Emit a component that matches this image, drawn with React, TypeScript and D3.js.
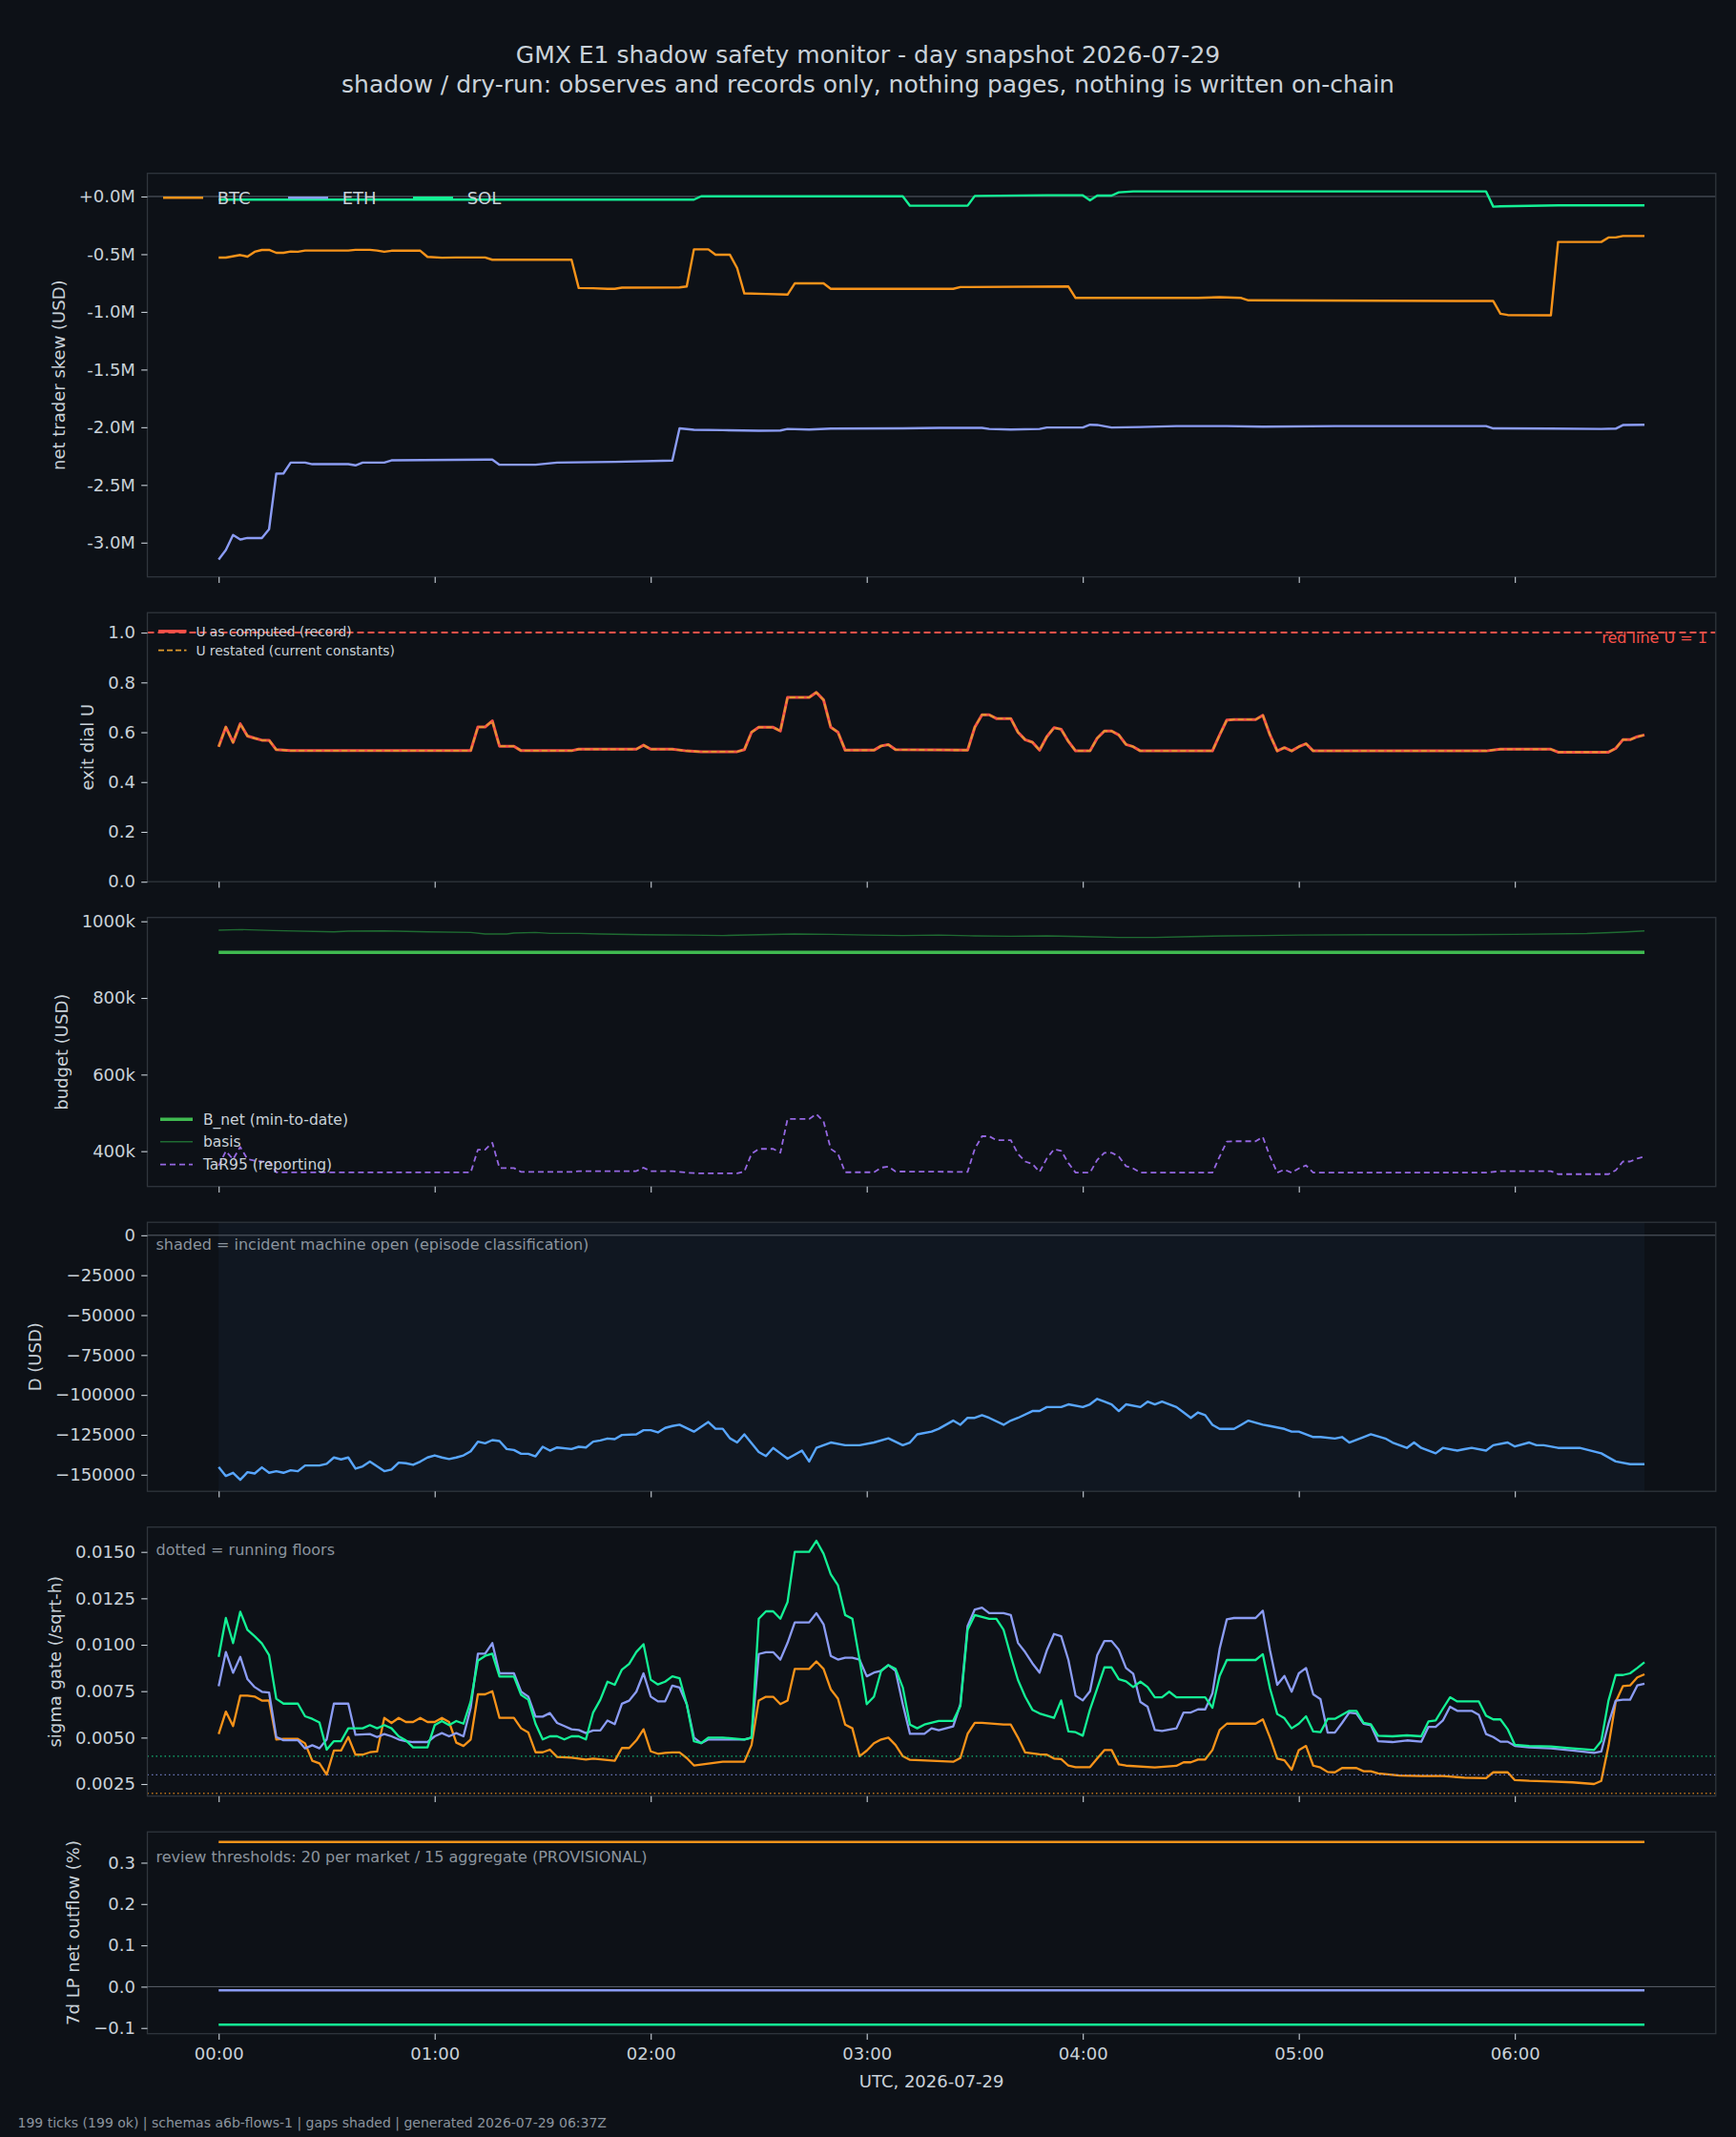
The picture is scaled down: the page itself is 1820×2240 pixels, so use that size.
import { useEffect, useRef } from "react";
import * as d3 from "d3";

// every series is [minutes after 00:00 UTC, value]; one tick every 2 min, 00:00 -> 06:36
type Pt = [number, number];

const markets = ["BTC", "ETH", "SOL"];

// net trader skew, USD millions
const btcSkew: Pt[] = [
  [0, -0.529], [2, -0.529], [6, -0.507], [8, -0.521], [10, -0.479], [12, -0.463], [14, -0.463],
  [16, -0.488], [18, -0.488], [20, -0.477], [22, -0.479], [24, -0.468], [36, -0.468], [38, -0.462],
  [42, -0.462], [44, -0.468], [46, -0.479], [48, -0.47], [56, -0.47], [58, -0.523], [62, -0.53],
  [66, -0.528], [74, -0.528], [76, -0.548], [98, -0.548], [100, -0.793], [104, -0.795], [108, -0.8],
  [110, -0.8], [112, -0.79], [128, -0.788], [130, -0.78], [132, -0.458], [136, -0.458], [138, -0.505],
  [142, -0.505], [144, -0.62], [146, -0.84], [152, -0.845], [158, -0.85], [160, -0.753], [168, -0.753],
  [170, -0.8], [204, -0.8], [206, -0.785], [236, -0.78], [238, -0.879], [272, -0.879], [278, -0.872],
  [284, -0.879], [286, -0.9], [354, -0.906], [356, -1.016], [358, -1.027], [370, -1.03], [372, -0.394],
  [384, -0.394], [386, -0.355], [388, -0.355], [390, -0.342], [396, -0.342],
];
const ethSkew: Pt[] = [
  [0, -3.146], [2, -3.064], [4, -2.934], [6, -2.973], [8, -2.96], [12, -2.96], [14, -2.884],
  [16, -2.402], [18, -2.4], [20, -2.306], [24, -2.306], [26, -2.32], [36, -2.32], [38, -2.33],
  [40, -2.306], [46, -2.306], [48, -2.287], [76, -2.28], [78, -2.325], [88, -2.325], [94, -2.306],
  [110, -2.3], [126, -2.288], [128, -2.01], [132, -2.022], [140, -2.025], [150, -2.03], [156, -2.028],
  [158, -2.015], [164, -2.02], [170, -2.012], [190, -2.01], [200, -2.005], [212, -2.005], [214, -2.015],
  [220, -2.02], [228, -2.015], [230, -2.002], [240, -2.002], [242, -1.978], [244, -1.98], [248, -2.002],
  [256, -1.998], [266, -1.99], [280, -1.99], [290, -1.995], [310, -1.99], [352, -1.99], [354, -2.01],
  [370, -2.012], [384, -2.015], [388, -2.012], [390, -1.981], [396, -1.978],
];
const solSkew: Pt[] = [
  [0, -0.027], [132, -0.027], [134, 0.002], [190, 0.002], [192, -0.08], [208, -0.08], [210, 0.005],
  [230, 0.011], [240, 0.011], [242, -0.033], [244, 0.008], [248, 0.008], [250, 0.036], [254, 0.044],
  [352, 0.044], [354, -0.088], [356, -0.085], [372, -0.077], [396, -0.077],
];

// exit dial U
const uRecord: Pt[] = [
  [0, 0.542], [2, 0.621], [4, 0.559], [6, 0.634], [8, 0.585], [10, 0.576], [12, 0.568], [14, 0.568],
  [16, 0.53], [20, 0.526], [70, 0.526], [72, 0.621], [74, 0.621], [76, 0.646], [78, 0.544], [82, 0.544],
  [84, 0.526], [98, 0.526], [100, 0.532], [116, 0.532], [118, 0.548], [120, 0.532], [126, 0.532],
  [130, 0.525], [134, 0.522], [144, 0.522], [146, 0.53], [148, 0.6], [150, 0.62], [154, 0.62],
  [156, 0.605], [158, 0.74], [164, 0.74], [166, 0.76], [168, 0.73], [170, 0.62], [172, 0.6],
  [174, 0.528], [182, 0.528], [184, 0.545], [186, 0.55], [188, 0.53], [208, 0.528], [210, 0.62],
  [212, 0.67], [214, 0.67], [216, 0.655], [220, 0.655], [222, 0.6], [224, 0.57], [226, 0.56],
  [228, 0.528], [230, 0.582], [232, 0.618], [234, 0.612], [236, 0.563], [238, 0.525], [242, 0.525],
  [244, 0.576], [246, 0.605], [248, 0.605], [250, 0.589], [252, 0.551], [254, 0.542], [256, 0.525],
  [276, 0.525], [278, 0.589], [280, 0.649], [282, 0.651], [288, 0.651], [290, 0.668], [292, 0.589],
  [294, 0.525], [296, 0.538], [298, 0.525], [300, 0.542], [302, 0.554], [304, 0.525], [352, 0.525],
  [356, 0.532], [370, 0.532], [372, 0.52], [386, 0.52], [388, 0.535], [390, 0.57], [392, 0.57],
  [394, 0.582], [396, 0.589],
];
// restated U lands exactly on the record for this day
const uRestated: Pt[] = uRecord.map((d) => [d[0], d[1]]);
const redLineU = 1;

// budget, USD thousands
const bNet: Pt[] = [[0, 919], [396, 919]];
const basis: Pt[] = [
  [0, 976.8], [6, 978.5], [15, 976], [32, 972.7], [36, 974.3], [46, 975.2], [58, 972.7], [70, 971],
  [74, 966.8], [80, 966.8], [82, 969.4], [88, 971], [92, 968.5], [100, 968.5], [106, 966.8],
  [118, 965.2], [124, 964.3], [130, 964], [140, 963], [150, 965], [160, 967], [170, 966], [180, 964],
  [190, 963], [200, 964], [210, 962], [220, 961], [230, 962], [240, 960], [250, 958], [260, 958],
  [270, 960], [280, 962], [290, 963], [300, 964], [320, 965], [340, 965], [360, 966], [380, 968],
  [390, 972], [396, 975],
];
const tar95: Pt[] = [
  [0, 362], [2, 400], [4, 379], [6, 411], [8, 379], [10, 375], [12, 373], [14, 372], [16, 345],
  [20, 344.5], [70, 344.5], [72, 404], [74, 404], [76, 422], [78, 356], [82, 356], [84, 346], [98, 346],
  [100, 348], [116, 348], [118, 357], [120, 348], [126, 348], [130, 344], [134, 342], [144, 342],
  [146, 347], [148, 393], [150, 406], [154, 406], [156, 396], [158, 484], [164, 484], [166, 497],
  [168, 478], [170, 406], [172, 393], [174, 345], [182, 345], [184, 357], [186, 360], [188, 347],
  [208, 346], [210, 406], [212, 439], [214, 439], [216, 429], [220, 429], [222, 393], [224, 373],
  [226, 367], [228, 346], [230, 381], [232, 405], [234, 401], [236, 369], [238, 344], [242, 344],
  [244, 377], [246, 396], [248, 396], [250, 386], [252, 361], [254, 355], [256, 344], [276, 344],
  [278, 386], [280, 425], [282, 426], [288, 426], [290, 437], [292, 386], [294, 344], [296, 352],
  [298, 344], [300, 355], [302, 363], [304, 344], [352, 344], [356, 348], [370, 348], [372, 340],
  [386, 340], [388, 350], [390, 373], [392, 373], [394, 381], [396, 386],
];

// D, USD
const dUsd: Pt[] = [
  [0, -145200], [2, -150800], [4, -148800], [6, -153200], [8, -148400], [10, -149200], [12, -145400],
  [14, -148800], [16, -147800], [18, -148800], [20, -147200], [22, -147800], [24, -144200],
  [28, -144200], [30, -143200], [32, -139200], [34, -140400], [36, -139200], [38, -146200],
  [40, -144800], [42, -141800], [44, -144800], [46, -147800], [48, -146800], [50, -142400],
  [52, -142800], [54, -143800], [56, -141800], [58, -139200], [60, -137900], [62, -139200],
  [64, -140200], [66, -139200], [68, -137900], [70, -135300], [72, -129300], [74, -130300],
  [76, -128300], [78, -128900], [80, -133900], [82, -134500], [84, -136900], [86, -136900],
  [88, -138500], [90, -132500], [92, -134900], [94, -132900], [98, -133900], [100, -132500],
  [102, -132900], [104, -129300], [106, -128500], [108, -127300], [110, -127700], [112, -125100],
  [116, -124700], [118, -122100], [120, -122100], [122, -123500], [124, -120700], [126, -119500],
  [128, -118700], [132, -123000], [136, -117000], [138, -121200], [140, -121200], [142, -127200],
  [144, -129800], [146, -124700], [150, -135800], [152, -138300], [154, -133200], [156, -136600],
  [158, -140000], [162, -134900], [164, -141700], [166, -133200], [168, -131500], [170, -129800],
  [174, -131500], [178, -131500], [182, -129800], [186, -127200], [190, -131500], [192, -129800],
  [194, -124700], [198, -123000], [200, -121200], [204, -116100], [206, -118700], [208, -114400],
  [210, -114400], [212, -112700], [214, -114400], [218, -118700], [220, -116100], [222, -114400],
  [226, -110100], [228, -110100], [230, -107600], [234, -107600], [236, -105900], [240, -107600],
  [242, -105900], [244, -102500], [246, -104200], [248, -105900], [250, -110100], [252, -105900],
  [256, -107600], [258, -104200], [260, -105900], [262, -104200], [266, -107600], [268, -111000],
  [270, -114400], [272, -111000], [274, -112700], [276, -118700], [278, -121300], [282, -121300],
  [284, -118700], [286, -116100], [290, -118700], [292, -119500], [296, -121300], [298, -123000],
  [300, -123000], [304, -126400], [306, -126400], [310, -127300], [312, -126400], [314, -129800],
  [318, -126400], [320, -124700], [324, -127300], [326, -129800], [330, -133200], [332, -129800],
  [334, -133200], [338, -136600], [340, -133200], [344, -134900], [346, -134000], [348, -133200],
  [352, -134900], [354, -131500], [358, -129800], [360, -132300], [364, -129800], [366, -131500],
  [368, -131500], [372, -133200], [378, -133200], [384, -136600], [388, -141700], [392, -143400],
  [396, -143400],
];
// incident machine open, first to last tick
const incidentSpan = [0, 396];

// sigma gate, /sqrt-h
const sigBtc: Pt[] = [
  [0, 0.00519], [2, 0.0064], [4, 0.00562], [6, 0.00726], [8, 0.00726], [10, 0.00721], [12, 0.00699],
  [14, 0.007], [16, 0.0049], [18, 0.00493], [22, 0.00493], [24, 0.00469], [26, 0.00375], [28, 0.00361],
  [30, 0.00301], [32, 0.0043], [34, 0.0043], [36, 0.00503], [38, 0.00408], [40, 0.00408], [42, 0.00421],
  [44, 0.00425], [46, 0.00606], [48, 0.00579], [50, 0.00606], [52, 0.00584], [54, 0.00584], [56, 0.00606],
  [58, 0.00584], [60, 0.00584], [62, 0.00606], [64, 0.00584], [66, 0.00473], [68, 0.00455], [70, 0.0049],
  [72, 0.00733], [74, 0.00733], [76, 0.0075], [78, 0.00606], [82, 0.00606], [84, 0.0055], [86, 0.00527],
  [88, 0.00421], [90, 0.00421], [92, 0.00435], [94, 0.00396], [98, 0.00392], [102, 0.00382],
  [104, 0.00387], [110, 0.00375], [112, 0.00444], [114, 0.00444], [116, 0.00485], [118, 0.00545],
  [120, 0.00426], [122, 0.00413], [124, 0.00418], [126, 0.0042], [128, 0.0042], [130, 0.0039],
  [132, 0.0035], [136, 0.0036], [140, 0.0037], [146, 0.0037], [148, 0.0046], [150, 0.007], [152, 0.0072],
  [154, 0.0072], [156, 0.0068], [158, 0.007], [160, 0.0087], [164, 0.0087], [166, 0.0091], [168, 0.0087],
  [170, 0.0076], [172, 0.0071], [174, 0.0057], [176, 0.0055], [178, 0.004], [180, 0.0043], [182, 0.0047],
  [184, 0.0049], [186, 0.005], [188, 0.0046], [190, 0.004], [192, 0.0038], [204, 0.0037], [206, 0.0039],
  [208, 0.0052], [210, 0.0058], [212, 0.0058], [218, 0.0057], [220, 0.0057], [222, 0.005], [224, 0.0042],
  [228, 0.0041], [230, 0.00408], [232, 0.00387], [234, 0.00384], [236, 0.00349], [238, 0.00341],
  [242, 0.00341], [244, 0.00387], [246, 0.00433], [248, 0.00433], [250, 0.00356], [252, 0.00349],
  [260, 0.00339], [266, 0.00348], [268, 0.00367], [270, 0.00367], [272, 0.00382], [274, 0.00382],
  [276, 0.00433], [278, 0.00541], [280, 0.00575], [288, 0.00575], [290, 0.00598], [292, 0.005],
  [294, 0.00387], [296, 0.00378], [298, 0.00327], [300, 0.00433], [302, 0.00455], [304, 0.00349],
  [306, 0.00339], [308, 0.00315], [310, 0.00313], [312, 0.00336], [316, 0.00336], [318, 0.00319],
  [320, 0.00319], [322, 0.00307], [328, 0.00296], [334, 0.00293], [340, 0.00293], [346, 0.00284],
  [352, 0.00281], [354, 0.00313], [358, 0.00313], [360, 0.00271], [364, 0.00267], [370, 0.00264],
  [376, 0.00259], [382, 0.0025], [384, 0.00267], [386, 0.00455], [388, 0.00692], [390, 0.00777],
  [392, 0.00781], [394, 0.00824], [396, 0.00841],
];
const sigEth: Pt[] = [
  [0, 0.00777], [2, 0.00961], [4, 0.00849], [6, 0.00935], [8, 0.00815], [10, 0.00772], [12, 0.00747],
  [14, 0.00743], [16, 0.00503], [18, 0.00486], [22, 0.00486], [24, 0.00442], [26, 0.00459], [28, 0.00442],
  [30, 0.0049], [32, 0.00683], [36, 0.00683], [38, 0.00515], [42, 0.00519], [44, 0.00503], [46, 0.00519],
  [48, 0.00507], [50, 0.0049], [52, 0.00481], [54, 0.00476], [58, 0.00476], [60, 0.00507], [62, 0.00524],
  [64, 0.00507], [66, 0.00524], [68, 0.00507], [70, 0.00661], [72, 0.00952], [74, 0.00952], [76, 0.01009],
  [78, 0.00846], [82, 0.00846], [84, 0.00747], [86, 0.00721], [88, 0.00613], [90, 0.00613], [92, 0.00632],
  [94, 0.00579], [96, 0.00562], [98, 0.00545], [100, 0.00541], [102, 0.00524], [104, 0.00538],
  [106, 0.00538], [108, 0.00592], [110, 0.00572], [112, 0.00682], [114, 0.00699], [116, 0.00747],
  [118, 0.00846], [120, 0.00721], [122, 0.00695], [124, 0.00695], [126, 0.0078], [128, 0.0077],
  [130, 0.0068], [132, 0.005], [134, 0.0047], [136, 0.0049], [146, 0.0049], [148, 0.005], [150, 0.0095],
  [152, 0.0096], [154, 0.0096], [156, 0.0092], [158, 0.0101], [160, 0.0112], [164, 0.0112], [166, 0.0117],
  [168, 0.0111], [170, 0.0094], [172, 0.0092], [174, 0.0093], [176, 0.0093], [178, 0.0092], [180, 0.0083],
  [182, 0.0085], [184, 0.0086], [186, 0.0089], [188, 0.0086], [190, 0.0068], [192, 0.0052], [196, 0.0052],
  [198, 0.0055], [200, 0.0054], [204, 0.0056], [206, 0.0068], [208, 0.011], [210, 0.0119], [212, 0.012],
  [214, 0.0117], [218, 0.0117], [220, 0.0116], [222, 0.0101], [224, 0.0096], [226, 0.009], [228, 0.0085],
  [230, 0.00969], [232, 0.01058], [234, 0.01046], [236, 0.00918], [238, 0.00726], [240, 0.007],
  [242, 0.0075], [244, 0.00944], [246, 0.0102], [248, 0.0102], [250, 0.00973], [252, 0.00875],
  [254, 0.00844], [256, 0.00692], [258, 0.00666], [260, 0.00541], [262, 0.00536], [266, 0.0055],
  [268, 0.00635], [270, 0.00635], [272, 0.00652], [274, 0.00652], [276, 0.00738], [278, 0.00978],
  [280, 0.01137], [282, 0.01144], [288, 0.01144], [290, 0.01183], [292, 0.00969], [294, 0.00784],
  [296, 0.00832], [298, 0.00747], [300, 0.00846], [302, 0.00875], [304, 0.00733], [306, 0.00707],
  [308, 0.00527], [310, 0.00527], [312, 0.00579], [314, 0.00635], [316, 0.0063], [318, 0.00575],
  [320, 0.00567], [322, 0.00481], [326, 0.00476], [330, 0.00485], [334, 0.00478], [336, 0.00558],
  [338, 0.00558], [340, 0.00592], [342, 0.00666], [344, 0.00644], [348, 0.00644], [350, 0.00622],
  [352, 0.00519], [354, 0.00503], [356, 0.00478], [358, 0.00478], [360, 0.00455], [364, 0.00447],
  [370, 0.00442], [376, 0.0043], [382, 0.00418], [384, 0.00425], [386, 0.00575], [388, 0.00699],
  [390, 0.00704], [392, 0.00704], [394, 0.00781], [396, 0.0079],
];
const sigSol: Pt[] = [
  [0, 0.00935], [2, 0.01144], [4, 0.01009], [6, 0.01178], [8, 0.0108], [10, 0.01046], [12, 0.01007],
  [14, 0.00944], [16, 0.00709], [18, 0.00683], [22, 0.00683], [24, 0.00615], [26, 0.00601], [28, 0.00581],
  [30, 0.00435], [32, 0.00481], [34, 0.00481], [36, 0.0055], [40, 0.0055], [42, 0.00567], [44, 0.0055],
  [46, 0.00567], [48, 0.0055], [50, 0.00507], [52, 0.00485], [54, 0.00447], [58, 0.00447], [60, 0.00567],
  [62, 0.00589], [64, 0.00567], [66, 0.00589], [68, 0.00575], [70, 0.00695], [72, 0.00914], [74, 0.0094],
  [76, 0.00952], [78, 0.00829], [82, 0.00829], [84, 0.0073], [86, 0.00704], [88, 0.00575], [90, 0.0049],
  [92, 0.00507], [94, 0.00507], [96, 0.0049], [98, 0.00507], [100, 0.00507], [102, 0.0049], [104, 0.00635],
  [106, 0.00704], [108, 0.00801], [110, 0.00784], [112, 0.00866], [114, 0.00897], [116, 0.00961],
  [118, 0.01003], [120, 0.00812], [122, 0.00786], [124, 0.00801], [126, 0.0083], [128, 0.0082],
  [130, 0.0068], [132, 0.0048], [134, 0.0047], [136, 0.005], [140, 0.005], [146, 0.0049], [148, 0.005],
  [150, 0.0114], [152, 0.0118], [154, 0.0118], [156, 0.0114], [158, 0.0123], [160, 0.015], [164, 0.015],
  [166, 0.0156], [168, 0.0149], [170, 0.0138], [172, 0.0132], [174, 0.0116], [176, 0.0114], [178, 0.0092],
  [180, 0.0068], [182, 0.0072], [184, 0.0086], [186, 0.0089], [188, 0.0087], [190, 0.0077], [192, 0.0057],
  [194, 0.0055], [196, 0.0057], [200, 0.0059], [204, 0.0059], [206, 0.0067], [208, 0.0108], [210, 0.0116],
  [214, 0.0114], [216, 0.0114], [218, 0.0108], [220, 0.0094], [222, 0.0081], [224, 0.0072], [226, 0.0065],
  [228, 0.0063], [230, 0.00618], [232, 0.00606], [234, 0.007], [236, 0.00533], [238, 0.00529],
  [240, 0.0051], [242, 0.00652], [244, 0.00764], [246, 0.00878], [248, 0.00878], [250, 0.00815],
  [252, 0.00803], [254, 0.00772], [256, 0.00801], [258, 0.00772], [260, 0.00717], [262, 0.00717],
  [264, 0.00747], [266, 0.00717], [274, 0.00717], [276, 0.00661], [278, 0.00832], [280, 0.00918],
  [288, 0.00918], [290, 0.00949], [292, 0.00764], [294, 0.00627], [296, 0.00604], [298, 0.0055],
  [300, 0.00575], [302, 0.00615], [304, 0.00533], [306, 0.00529], [308, 0.00601], [310, 0.00601],
  [312, 0.00623], [314, 0.00644], [316, 0.00644], [318, 0.00579], [320, 0.00572], [322, 0.0051],
  [326, 0.00507], [330, 0.00512], [334, 0.00507], [336, 0.00587], [338, 0.00592], [340, 0.00656],
  [342, 0.00717], [344, 0.00695], [350, 0.00695], [352, 0.00618], [354, 0.00598], [356, 0.00598],
  [358, 0.00545], [360, 0.00461], [364, 0.00455], [370, 0.00452], [376, 0.00442], [382, 0.00433],
  [384, 0.00481], [386, 0.00699], [388, 0.00837], [390, 0.00837], [392, 0.00846], [394, 0.00875],
  [396, 0.00906],
];
// running floors (BTC, ETH, SOL)
const sigFloors = [0.002, 0.003, 0.004];

// 7d LP net outflow, % (BTC, ETH, SOL), flat over the day
const lpOutflow = [0.35, -0.009, -0.092];
const lpSpan = [0, 396];

// axis ticks
const hourTicks = [0, 60, 120, 180, 240, 300, 360];
const hourLabels = ["00:00", "01:00", "02:00", "03:00", "04:00", "05:00", "06:00"];
const skewTicks = [0, -0.5, -1, -1.5, -2, -2.5, -3];
const uTicks = [0, 0.2, 0.4, 0.6, 0.8, 1.0];
const budgetTicks = [400, 600, 800, 1000];
const dTicks = [0, -25000, -50000, -75000, -100000, -125000, -150000];
const sigTicks = [0.0025, 0.005, 0.0075, 0.01, 0.0125, 0.015];
const lpTicks = [-0.1, 0, 0.1, 0.2, 0.3];

// look
const BG = "#0d1117";
const SPINE = "#30363d";
const TEXT = "#c9d1d9";
const MUTED = "#8b949e";
const ZERO = "#6e7681";
const FONT = "'DejaVu Sans', sans-serif";
const COLORS: Record<string, string> = { BTC: "#f7931a", ETH: "#8b9cf4", SOL: "#14f195" };

const W = 1820;
const H = 2240;
const X0 = 154.5;
const X1 = 1798.8;
const ratios = [3, 2, 2, 2, 2, 1.5];
const UNIT = 141;
const GAP = 37.5;
const TOP0 = 181.7;

const App = () => {
  const svgRef = useRef<SVGSVGElement>(null);

  useEffect(() => {
    document.body.style.margin = "0";
    document.body.style.background = BG;
    const svg = d3.select(svgRef.current);
    svg.selectAll("*").remove();

    svg.append("rect").attr("width", W).attr("height", H).attr("fill", BG);

    // panel boxes
    const boxes: [number, number][] = [];
    let t = TOP0;
    ratios.forEach((r) => {
      boxes.push([t, t + r * UNIT]);
      t = t + r * UNIT + GAP;
    });

    const x = d3.scaleLinear().domain([-19.8, 415.8]).range([X0, X1]);

    const txt = (
      sel: any,
      px: number,
      py: number,
      s: string,
      size: number,
      fill: string,
      anchor = "start"
    ) =>
      sel
        .append("text")
        .attr("x", px)
        .attr("y", py)
        .attr("text-anchor", anchor)
        .attr("fill", fill)
        .style("font-family", FONT)
        .style("font-size", `${size}px`)
        .text(s);

    const makePanel = (
      i: number,
      domain: [number, number],
      ticks: number[],
      fmt: (v: number) => string,
      label: string
    ) => {
      const [top, bottom] = boxes[i];
      const y = d3.scaleLinear().domain(domain).range([bottom, top]);
      const g = svg.append("g");
      const back = g.append("g");
      const plot = g.append("g");
      const front = g.append("g");

      // frame + axes go on top
      const finish = () => {
        front
          .append("rect")
          .attr("x", X0)
          .attr("y", top)
          .attr("width", X1 - X0)
          .attr("height", bottom - top)
          .attr("fill", "none")
          .attr("stroke", SPINE)
          .attr("stroke-width", 1.3);

        const ya = front
          .append("g")
          .attr("transform", `translate(${X0},0)`)
          .call(
            d3
              .axisLeft(y)
              .tickValues(ticks)
              .tickSize(6.3)
              .tickPadding(6.3)
              .tickFormat((v: any) => fmt(v))
          );
        ya.select(".domain").remove();
        ya.selectAll("line").attr("stroke", TEXT).attr("stroke-width", 1.1);
        ya.selectAll("text")
          .attr("fill", TEXT)
          .style("font-family", FONT)
          .style("font-size", "18px");

        const xa = front
          .append("g")
          .attr("transform", `translate(0,${bottom})`)
          .call(
            d3
              .axisBottom(x)
              .tickValues(hourTicks)
              .tickSize(6.3)
              .tickPadding(8.5)
              .tickFormat((v: any, k: number) => (i === ratios.length - 1 ? hourLabels[k] : ""))
          );
        xa.select(".domain").remove();
        xa.selectAll("line").attr("stroke", TEXT).attr("stroke-width", 1.1);
        xa.selectAll("text")
          .attr("fill", TEXT)
          .style("font-family", FONT)
          .style("font-size", "18px");

        // y label sits left of the widest tick label
        const bb = (ya.node() as SVGGElement).getBBox();
        const lx = X0 + bb.x - 15;
        front
          .append("text")
          .attr("transform", `translate(${lx},${(top + bottom) / 2}) rotate(-90)`)
          .attr("text-anchor", "middle")
          .attr("fill", TEXT)
          .style("font-family", FONT)
          .style("font-size", "18px")
          .text(label);
      };

      return { y, top, bottom, back, plot, front, finish };
    };

    const drawLine = (
      sel: any,
      data: Pt[],
      y: d3.ScaleLinear<number, number>,
      color: string,
      width: number,
      dash?: string,
      opacity = 1
    ) => {
      const line = d3
        .line<Pt>()
        .x((d) => x(d[0]))
        .y((d) => y(d[1]));
      const p = sel
        .append("path")
        .datum(data)
        .attr("fill", "none")
        .attr("stroke", color)
        .attr("stroke-width", width)
        .attr("stroke-linejoin", "round")
        .attr("opacity", opacity)
        .attr("d", line);
      if (dash) p.attr("stroke-dasharray", dash);
      return p;
    };

    const hline = (sel: any, yv: number, color: string, width: number, dash?: string, opacity = 1) => {
      const l = sel
        .append("line")
        .attr("x1", X0)
        .attr("x2", X1)
        .attr("y1", yv)
        .attr("y2", yv)
        .attr("stroke", color)
        .attr("stroke-width", width)
        .attr("opacity", opacity);
      if (dash) l.attr("stroke-dasharray", dash);
    };

    const legendRow = (
      sel: any,
      hx0: number,
      hx1: number,
      hy: number,
      tx: number,
      label: string,
      color: string,
      width: number,
      size: number,
      dash?: string,
      opacity = 1
    ) => {
      const l = sel
        .append("line")
        .attr("x1", hx0)
        .attr("x2", hx1)
        .attr("y1", hy)
        .attr("y2", hy)
        .attr("stroke", color)
        .attr("stroke-width", width)
        .attr("opacity", opacity);
      if (dash) l.attr("stroke-dasharray", dash);
      txt(sel, tx, hy + size * 0.36, label, size, TEXT);
    };

    // ---- titles ----
    txt(svg, W / 2, 66, "GMX E1 shadow safety monitor - day snapshot 2026-07-29", 25, TEXT, "middle");
    txt(
      svg,
      W / 2,
      97,
      "shadow / dry-run: observes and records only, nothing pages, nothing is written on-chain",
      25,
      TEXT,
      "middle"
    );

    // ---- 1: net trader skew ----
    const p1 = makePanel(
      0,
      [-3.297, 0.2008],
      skewTicks,
      (v) => (v === 0 ? "+0.0M" : `${v < 0 ? "-" : "+"}${Math.abs(v).toFixed(1)}M`),
      "net trader skew (USD)"
    );
    hline(p1.back, p1.y(0), ZERO, 1, undefined, 0.8);
    const skews = [btcSkew, ethSkew, solSkew];
    skews.forEach((s, k) => drawLine(p1.plot, s, p1.y, COLORS[markets[k]], 2.4));
    markets.forEach((m, k) => {
      const hx = 171 + k * 131;
      legendRow(p1.front, hx, hx + 42, 207.3, hx + 56.7, m, COLORS[m], 2.6, 18);
    });
    p1.finish();

    // ---- 2: exit dial U ----
    const p2 = makePanel(1, [0, 1.08], uTicks, (v) => v.toFixed(1), "exit dial U");
    hline(p2.back, p2.y(redLineU), "#f85149", 2, "7,4");
    drawLine(p2.plot, uRecord, p2.y, "#f85149", 3);
    drawLine(p2.plot, uRestated, p2.y, "#e09b2d", 1.8, "6,3");
    txt(p2.front, 1790, p2.y(redLineU) + 11, "red line U = 1", 16, "#f85149", "end");
    legendRow(p2.front, 166, 195.5, 661.7, 205.4, "U as computed (record)", "#f85149", 3.2, 13.8);
    legendRow(p2.front, 166, 195.5, 681.7, 205.4, "U restated (current constants)", "#e09b2d", 1.8, 13.8, "6,3");
    p2.finish();

    // ---- 3: budget ----
    const p3 = makePanel(2, [307.8, 1010], budgetTicks, (v) => `${v}k`, "budget (USD)");
    drawLine(p3.plot, bNet, p3.y, "#3fb950", 3.4);
    drawLine(p3.plot, basis, p3.y, "#1f6b32", 1.4);
    drawLine(p3.plot, tar95, p3.y, "#a371f7", 1.8, "6,4", 0.9);
    legendRow(p3.front, 168, 202, 1173.3, 212.9, "B_net (min-to-date)", "#3fb950", 3.4, 15.5);
    legendRow(p3.front, 168, 202, 1196.7, 212.9, "basis", "#1f6b32", 1.4, 15.5);
    legendRow(p3.front, 168, 202, 1220.7, 212.9, "TaR95 (reporting)", "#a371f7", 1.8, 15.5, "6,4", 0.9);
    p3.finish();

    // ---- 4: D ----
    const p4 = makePanel(
      3,
      [-160400, 8150],
      dTicks,
      (v) => (v < 0 ? `\u2212${Math.abs(v)}` : `${v}`),
      "D (USD)"
    );
    p4.back
      .append("rect")
      .attr("x", x(incidentSpan[0]))
      .attr("y", p4.top)
      .attr("width", x(incidentSpan[1]) - x(incidentSpan[0]))
      .attr("height", p4.bottom - p4.top)
      .attr("fill", "#58a6ff")
      .attr("opacity", 0.045);
    hline(p4.back, p4.y(0), ZERO, 1, undefined, 0.8);
    drawLine(p4.plot, dUsd, p4.y, "#58a6ff", 2.4);
    txt(p4.front, 163.5, p4.top + 29, "shaded = incident machine open (episode classification)", 16, MUTED);
    p4.finish();

    // ---- 5: sigma gate ----
    const p5 = makePanel(
      4,
      [0.001848, 0.016336],
      sigTicks,
      (v) => v.toFixed(4),
      "sigma gate (/sqrt-h)"
    );
    [sigBtc, sigEth, sigSol].forEach((s, k) => drawLine(p5.plot, s, p5.y, COLORS[markets[k]], 2.3));
    sigFloors.forEach((f, k) => hline(p5.plot, p5.y(f), COLORS[markets[k]], 1.3, "1.5,3", 0.75));
    txt(p5.front, 163.5, p5.top + 29, "dotted = running floors", 16, MUTED);
    p5.finish();

    // ---- 6: LP outflow ----
    const p6 = makePanel(
      5,
      [-0.1138, 0.3745],
      lpTicks,
      (v) => (v < 0 ? `\u2212${Math.abs(v).toFixed(1)}` : v.toFixed(1)),
      "7d LP net outflow (%)"
    );
    hline(p6.back, p6.y(0), ZERO, 1, undefined, 0.8);
    lpOutflow.forEach((v, k) =>
      drawLine(p6.plot, [[lpSpan[0], v], [lpSpan[1], v]], p6.y, COLORS[markets[k]], 2.4)
    );
    txt(
      p6.front,
      163.5,
      p6.top + 31.5,
      "review thresholds: 20 per market / 15 aggregate (PROVISIONAL)",
      16,
      MUTED
    );
    p6.finish();

    // x label + footer
    txt(svg, (X0 + X1) / 2, 2188, "UTC, 2026-07-29", 18, TEXT, "middle");
    txt(
      svg,
      18.5,
      2230,
      "199 ticks (199 ok) | schemas a6b-flows-1 | gaps shaded | generated 2026-07-29 06:37Z",
      14,
      MUTED
    );
  }, []);

  return <svg ref={svgRef} width={W} height={H} style={{ display: "block" }}></svg>;
};

export default App;
